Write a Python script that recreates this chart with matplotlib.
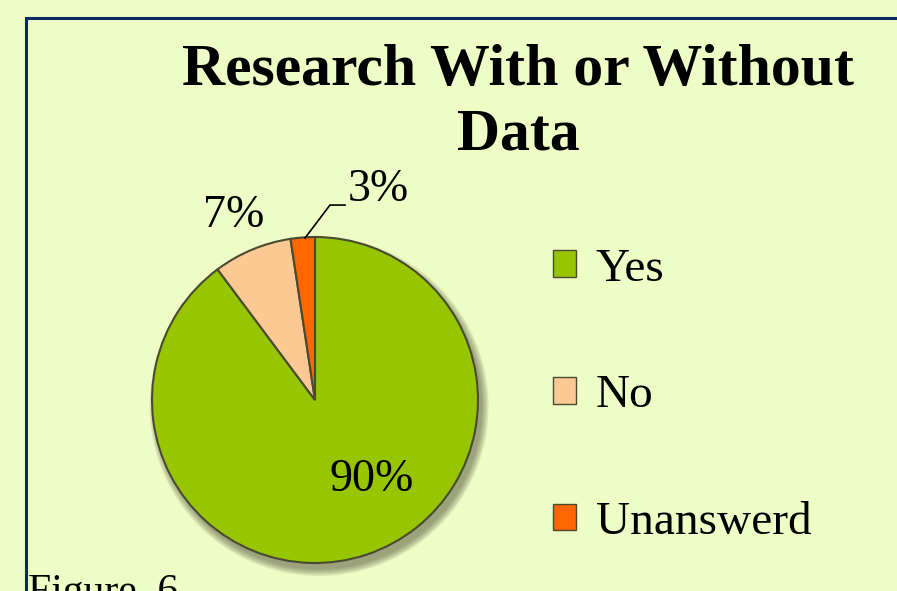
import matplotlib.pyplot as plt
from matplotlib.patches import Rectangle, Circle

# data
categories = ["Yes", "No", "Unanswerd"]
shares = [89.8, 7.8, 2.4]
pct_labels = ["90%", "7%", "3%"]
colors = ["#97C500", "#FCC994", "#FF6600"]

W, H = 897, 591
BG = "#EEFDC6"
SERIF = ["Liberation Serif", "DejaVu Serif"]

fig = plt.figure(figsize=(W / 100, H / 100), dpi=100, facecolor=BG)

## frame around the chart (runs off the right and bottom edges)
fig.patches.append(Rectangle((26 / W, -0.1), 1.0, 1 - 18 / H + 0.1, transform=fig.transFigure,
                             fill=False, ec="#0B2B63", lw=2.2, zorder=0))

## pie axes: centre (315, 400) px, radius 163 px, limits +-1.1
cx, cy, r = 315, 400, 163
half = r * 1.1
ax = fig.add_axes([(cx - half) / W, (H - cy - half) / H, 2 * half / W, 2 * half / H])
ax.set_facecolor("none")

# soft grey drop shadow (a few stacked translucent discs)
for k in range(6):
    ax.add_patch(Circle((0.025, -0.04), 1.0 + 0.008 * k, color="#5A5A40",
                        alpha=0.12, lw=0, zorder=0))

wedges, _ = ax.pie(shares, colors=colors, startangle=90, counterclock=False,
                   wedgeprops=dict(edgecolor="#4A4A32", linewidth=1.5, zorder=2))
ax.set_xlim(-1.1, 1.1)
ax.set_ylim(-1.1, 1.1)
ax.axis("off")

## data labels
ax.text(0.35, -0.49, pct_labels[0], fontsize=33, family=SERIF, ha="center", va="center", zorder=3)
ax.text(-0.50, 1.13, pct_labels[1], fontsize=33, family=SERIF, ha="center", va="center")
ax.text(0.39, 1.29, pct_labels[2], fontsize=33, family=SERIF, ha="center", va="center")
# leader line for the small slice
ax.plot([-0.061, 0.092, 0.184], [0.994, 1.196, 1.196], color="black", lw=1.2, clip_on=False)

## title
fig.text(518 / W, 1 - 44 / H, "Research With or Without\nData", ha="center", va="top",
         fontsize=43, fontweight="bold", family=SERIF, linespacing=1.25)

## legend
leg = fig.legend(wedges, categories, loc="center left", bbox_to_anchor=(510 / W, 1 - 396 / H),
                 frameon=False, prop=dict(family=SERIF, size=34),
                 handlelength=0.5, handleheight=0.5, handletextpad=0.42, labelspacing=1.78)
for h in leg.legend_handles:
    h.set_edgecolor("#4A4A32")
    h.set_linewidth(1.0)

## caption underneath, cut off by the page edge
fig.text(28 / W, 1 - 573 / H, "Figure  6", ha="left", va="top", fontsize=30, family=SERIF)

fig.savefig("out.png", dpi=100, facecolor=BG)
